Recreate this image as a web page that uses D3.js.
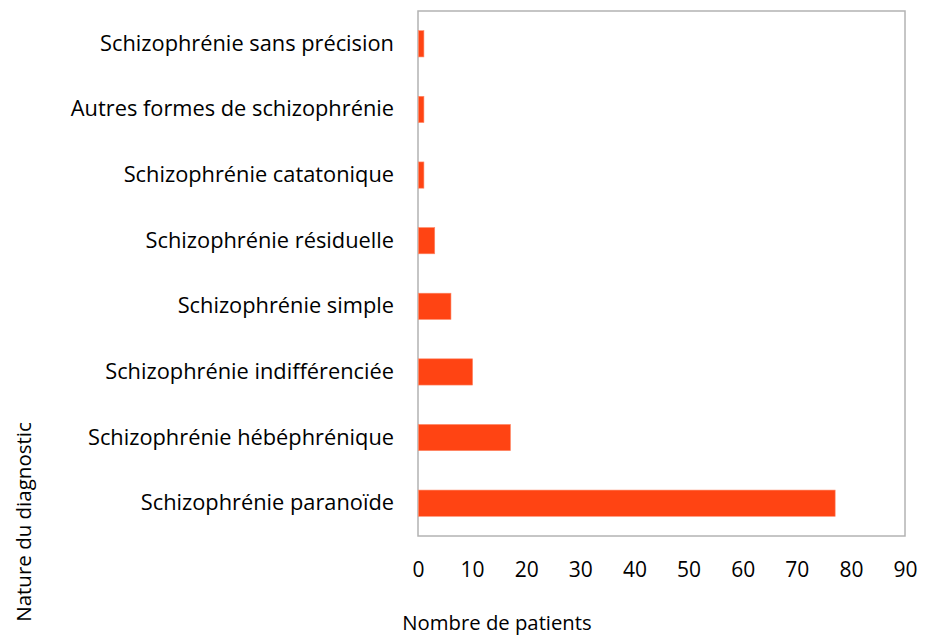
<!DOCTYPE html>
<html><head><meta charset="utf-8">
<script src="https://cdn.jsdelivr.net/npm/d3@7"></script>
<style>body{margin:0;background:#fff}</style>
</head><body>
<svg id="c" width="930" height="637"></svg>
<script>
const categories = [
  "Schizophrénie sans précision",
  "Autres formes de schizophrénie",
  "Schizophrénie catatonique",
  "Schizophrénie résiduelle",
  "Schizophrénie simple",
  "Schizophrénie indifférenciée",
  "Schizophrénie hébéphrénique",
  "Schizophrénie paranoïde"
];
const values = [1, 1, 1, 3, 6, 10, 17, 77];
const xTicks = [0, 10, 20, 30, 40, 50, 60, 70, 80, 90];
const xTitle = "Nombre de patients";
const yTitle = "Nature du diagnostic";

const font = "'Open Sans', sans-serif";
const svg = d3.select("#c");
const L = 418, R = 905, T = 11, B = 536;
const x = d3.scaleLinear().domain([0, 90]).range([L, R]);
const y = d3.scaleBand().domain(categories).range([T, B]).paddingInner(0.6).paddingOuter(0.3);

svg.append("rect").attr("x", L).attr("y", T).attr("width", R - L).attr("height", B - T)
  .attr("fill", "none").attr("stroke", "#b3b3b3").attr("stroke-width", 1.5);

svg.append("g").selectAll("rect").data(values).join("rect")
  .attr("x", x(0) + 0.5)
  .attr("y", (d, i) => y(categories[i]))
  .attr("width", d => x(d) - x(0))
  .attr("height", y.bandwidth())
  .attr("fill", "#ff4413")
  .attr("stroke", "#ff8a6a").attr("stroke-width", 0.6);

const yAxis = d3.axisLeft(y).tickSize(0).tickPadding(24);
const gy = svg.append("g").attr("transform", `translate(${L},0)`).call(yAxis);
gy.select(".domain").remove();
gy.selectAll("text").attr("font-family", font).attr("font-size", 21.8).attr("fill", "#000");

const xAxis = d3.axisBottom(x).tickValues(xTicks).tickSize(0).tickPadding(26);
const gx = svg.append("g").attr("transform", `translate(0,${B})`).call(xAxis);
gx.select(".domain").remove();
gx.selectAll("text").attr("font-family", font).attr("font-size", 21).attr("fill", "#000");

svg.append("text").attr("x", 497).attr("y", 630).attr("text-anchor", "middle")
  .attr("font-family", font).attr("font-size", 20.3).attr("fill", "#000").text(xTitle);
svg.append("text").attr("transform", "translate(31,522) rotate(-90)").attr("text-anchor", "middle")
  .attr("font-family", font).attr("font-size", 20.5).attr("fill", "#000").text(yTitle);
</script>
</body></html>
